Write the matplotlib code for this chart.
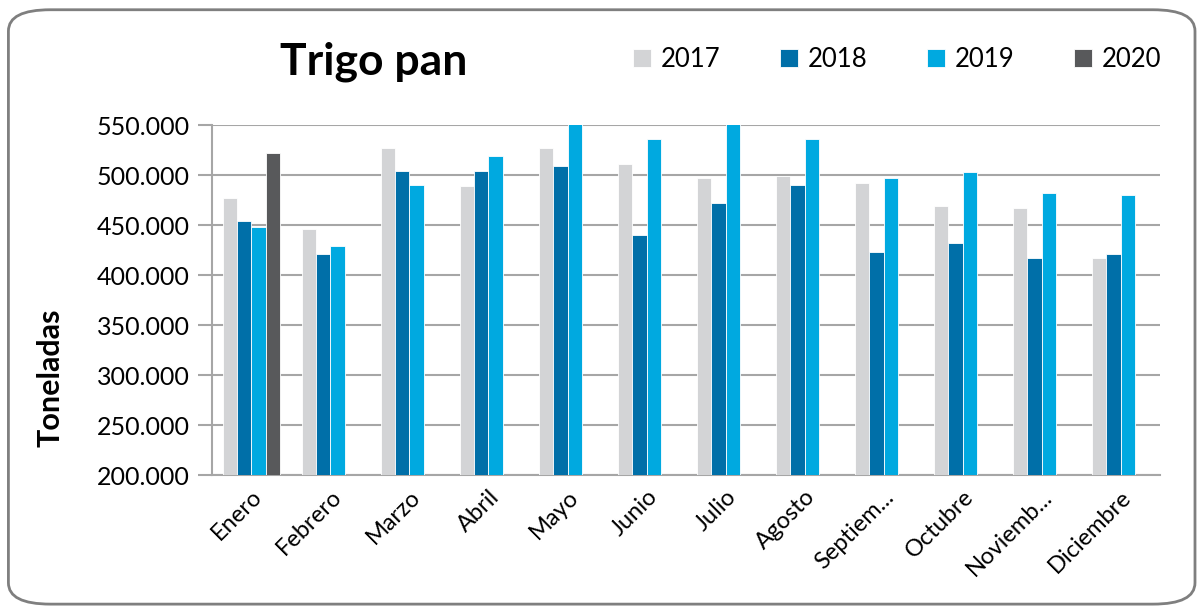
import matplotlib.pyplot as plt
from matplotlib.patches import FancyBboxPatch
from matplotlib.ticker import FuncFormatter
import numpy as np

plt.rcParams['font.family'] = ['Lato', 'DejaVu Sans']

meses = ['Enero', 'Febrero', 'Marzo', 'Abril', 'Mayo', 'Junio', 'Julio',
         'Agosto', 'Septiem...', 'Octubre', 'Noviemb...', 'Diciembre']
years = ['2017', '2018', '2019', '2020']

v2017 = [477000, 446000, 527000, 489000, 527000, 511000, 497000, 499000, 492000, 469000, 467000, 417000]
v2018 = [454000, 421000, 504000, 504000, 509000, 440000, 472000, 490000, 423000, 432000, 417000, 421000]
v2019 = [448000, 429000, 490000, 519000, 560000, 536000, 565000, 536000, 497000, 503000, 482000, 480000]
v2020 = [522000]

colors = ['#D3D4D6', '#006FA8', '#00A9E0', '#58595B']
series = [v2017, v2018, v2019, v2020]

fig = plt.figure(figsize=(12.01, 6.09), dpi=100)
ax = fig.add_axes([0.1765, 0.22, 0.7894, 0.5747])

x = np.arange(len(meses))
width = 0.183
for i, vals in enumerate(series):
    pos = x[:len(vals)] + (i - 1.5) * width
    ax.bar(pos, vals, width, color=colors[i], edgecolor='white', linewidth=0.6,
           label=years[i], zorder=3)

ax.set_ylim(200000, 550000)
ax.set_xlim(-0.5, len(meses) - 0.5)
ax.set_yticks(np.arange(200000, 550001, 50000))
ax.yaxis.set_major_formatter(FuncFormatter(lambda v, p: f'{v:,.0f}'.replace(',', '.')))
ax.grid(axis='y', color='#A6A6A6', linewidth=1.5, zorder=0)
ax.tick_params(axis='y', length=10, width=1.5, color='#A6A6A6', labelsize=18, pad=6)
ax.tick_params(axis='x', length=0, labelsize=17, pad=8)
ax.set_xticks(x)
ax.set_xticklabels(meses, rotation=45, ha='right', rotation_mode='anchor')
for s in ['top', 'right']:
    ax.spines[s].set_visible(False)
ax.spines['left'].set_color('#A6A6A6')
ax.spines['left'].set_linewidth(1.5)
ax.spines['bottom'].set_color('#A6A6A6')
ax.spines['bottom'].set_linewidth(1.5)

fig.text(0.311, 0.898, 'Trigo pan', fontsize=32, fontweight='bold', va='center', ha='center')
fig.text(0.042, 0.38, 'Toneladas', fontsize=22, fontweight='bold', rotation=90,
         va='center', ha='center')

ax.legend(loc='center', bbox_to_anchor=(0.747, 0.903), bbox_transform=fig.transFigure,
          ncol=4, frameon=False, fontsize=18.5, handlelength=0.7, handleheight=0.7,
          handletextpad=0.4, columnspacing=2.3)

border = FancyBboxPatch((0.007, 0.008), 0.988, 0.976, boxstyle='round,pad=0,rounding_size=0.035',
                        transform=fig.transFigure, fill=False, edgecolor='#7F7F7F', linewidth=2)
fig.patches.append(border)

plt.savefig('out.png', dpi=100)
